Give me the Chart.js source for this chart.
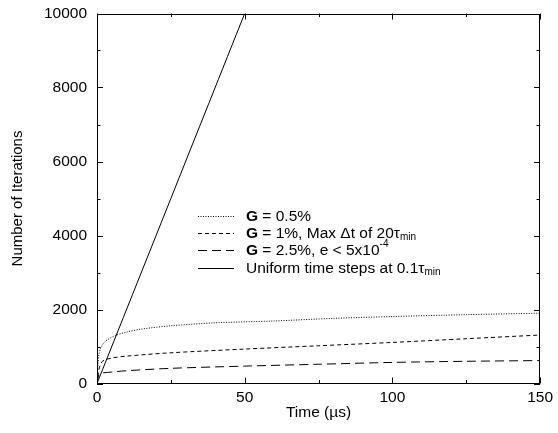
<!DOCTYPE html>
<html>
<head>
<meta charset="utf-8">
<script src="https://cdn.jsdelivr.net/npm/chart.js@4.4.0/dist/chart.umd.min.js"></script>
<style>
  html, body { margin: 0; padding: 0; background: #fff; }
  #wrap { width: 558px; height: 433px; }
</style>
</head>
<body>
<div id="wrap"><canvas id="iterChart"></canvas></div>
<script>
// values
var tSmall = [0, 0.3, 0.7, 1.5, 3, 6, 10, 15, 25, 40, 60, 80, 100, 125, 150];
var iterSmall = [0, 500, 800, 1000, 1150, 1290, 1390, 1470, 1560, 1640, 1690, 1760, 1810, 1860, 1900];

var tMed = [0, 0.5, 1, 2, 5, 10, 25, 50, 75, 100, 125, 150];
var iterMed = [0, 300, 480, 610, 690, 740, 830, 930, 1020, 1110, 1210, 1310];

var tLarge = [0, 0.5, 1, 5, 10, 25, 50, 75, 100, 125, 150];
var iterLarge = [0, 200, 270, 310, 345, 410, 470, 520, 570, 600, 620];

var tUniform = [0, 50];
var iterUniform = [0, 10000];

var xTicks = [0, 50, 100, 150];
var yTicks = [0, 2000, 4000, 6000, 8000, 10000];

// legend pieces: [text, style]  b = bold, n = normal, sub, sup
var legendItems = [
    [["G", "b"], [" = 0.5%", "n"]],
    [["G", "b"], [" = 1%, Max \u0394t of 20\u03c4", "n"], ["min", "sub"]],
    [["G", "b"], [" = 2.5%, e < 5x10", "n"], ["-4", "sup"]],
    [["Uniform time steps at 0.1\u03c4", "n"], ["min", "sub"]]
];
var dashes = [[1, 1.5], [4, 3], [9, 5], []];

function pts(xs, ys) {
    return xs.map(function (x, i) { return {x: x, y: ys[i]}; });
}

var FONT = "'Liberation Sans', Arial, Helvetica, sans-serif";

var framePlugin = {
    id: "frame",
    afterDatasetsDraw: function (chart) {
        var ctx = chart.ctx, a = chart.chartArea;
        var xs = chart.scales.x, ys = chart.scales.y;
        ctx.save();
        ctx.strokeStyle = "#000";
        ctx.lineWidth = 1;
        ctx.setLineDash([]);
        ctx.strokeRect(Math.round(a.left) + 0.5, Math.round(a.top) + 0.5,
            Math.round(a.right - a.left) - 1, Math.round(a.bottom - a.top) - 1);
        ctx.beginPath();
        for (var v = 0; v <= 150; v += 25) {
            var len = v % 50 === 0 ? 6 : 3.5;
            var px = Math.round(xs.getPixelForValue(v)) + 0.5;
            ctx.moveTo(px, a.bottom); ctx.lineTo(px, a.bottom - len);
            ctx.moveTo(px, a.top); ctx.lineTo(px, a.top + len);
        }
        for (var w = 0; w <= 10000; w += 1000) {
            var l2 = w % 2000 === 0 ? 6 : 3.5;
            var py = Math.round(ys.getPixelForValue(w)) + 0.5;
            ctx.moveTo(a.left, py); ctx.lineTo(a.left + l2, py);
            ctx.moveTo(a.right, py); ctx.lineTo(a.right - l2, py);
        }
        ctx.stroke();

        // legend, placed by pixel offset from the plot's top-left corner
        var lx0 = a.left + 101, lx1 = a.left + 137, tx = a.left + 149;
        ctx.fillStyle = "#000";
        ctx.textBaseline = "middle";
        legendItems.forEach(function (item, i) {
            var y = Math.round(a.top + 202 + 17.4 * i) + 0.5;
            ctx.setLineDash(dashes[i]);
            ctx.beginPath();
            ctx.moveTo(lx0, y); ctx.lineTo(lx1, y);
            ctx.stroke();
            var x = tx;
            item.forEach(function (p) {
                var size = 15.5, dy = 0, weight = "";
                if (p[1] === "b") weight = "bold ";
                if (p[1] === "sub") { size = 10; dy = 4; }
                if (p[1] === "sup") { size = 10; dy = -6; }
                ctx.font = weight + size + "px " + FONT;
                ctx.fillText(p[0], x, y + dy);
                x += ctx.measureText(p[0]).width;
            });
        });
        ctx.restore();
    }
};

function plain(v) { return String(v); }

new Chart(document.querySelector("#iterChart"), {
    type: "scatter",
    data: {
        datasets: [{
            label: "G = 0.5%",
            data: pts(tSmall, iterSmall),
            borderDash: dashes[0]
        }, {
            label: "G = 1%",
            data: pts(tMed, iterMed),
            borderDash: dashes[1]
        }, {
            label: "G = 2.5%",
            data: pts(tLarge, iterLarge),
            borderDash: dashes[2]
        }, {
            label: "Uniform",
            data: pts(tUniform, iterUniform),
            borderDash: dashes[3]
        }].map(function (d) {
            d.showLine = true;
            d.borderColor = "#000";
            d.borderWidth = 1;
            d.pointRadius = 0;
            d.tension = 0.3;
            d.fill = false;
            return d;
        })
    },
    options: {
        responsive: true,
        maintainAspectRatio: false,
        animation: false,
        layout: {padding: {top: 13.5, right: 15, left: 0, bottom: 0}},
        plugins: {
            legend: {display: false},
            tooltip: {enabled: false}
        },
        scales: {
            x: {
                type: "linear",
                min: 0, max: 150,
                afterBuildTicks: function (s) { s.ticks = xTicks.map(function (v) { return {value: v}; }); },
                afterFit: function (s) { s.height = 49.5; },
                grid: {display: false, drawTicks: false},
                border: {display: false},
                ticks: {color: "#000", padding: 5, maxRotation: 0, callback: plain,
                        font: {family: FONT, size: 15.5}},
                title: {display: true, text: "Time (\u00b5s)", color: "#000",
                        padding: {top: 0, bottom: 11}, font: {family: FONT, size: 15.5}}
            },
            y: {
                min: 0, max: 10000,
                afterBuildTicks: function (s) { s.ticks = yTicks.map(function (v) { return {value: v}; }); },
                afterFit: function (s) { s.width = 97; s.paddingTop = 0; s.paddingBottom = 0; },
                grid: {display: false, drawTicks: false},
                border: {display: false},
                ticks: {color: "#000", padding: 10, callback: plain,
                        font: {family: FONT, size: 15.5}},
                title: {display: true, text: "Number of Iterations", color: "#000",
                        padding: {top: 8.5, bottom: 0}, font: {family: FONT, size: 15}}
            }
        }
    },
    plugins: [framePlugin]
});
</script>
</body>
</html>
